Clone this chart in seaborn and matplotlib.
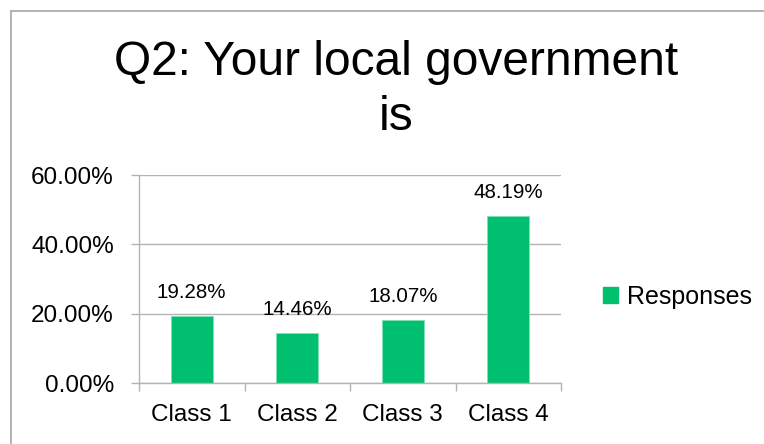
import matplotlib
matplotlib.use("Agg")
import matplotlib.pyplot as plt
import matplotlib.patches as mpatches
from matplotlib.lines import Line2D
from matplotlib.ticker import FuncFormatter, FixedLocator
import seaborn as sns
import pandas as pd

categories = ["Class 1", "Class 2", "Class 3", "Class 4"]
values = [0.1928, 0.1446, 0.1807, 0.4819]
value_labels = ["19.28%", "14.46%", "18.07%", "48.19%"]
yticks = [0.0, 0.2, 0.4, 0.6]
series_name = "Responses"
title_line1 = "Q2: Your local government"
title_line2 = "is"

sns.set_theme(style="white")
plt.rcParams["font.family"] = ["Liberation Sans", "DejaVu Sans"]

W, H = 764, 444
fig = plt.figure(figsize=(W / 100, H / 100), dpi=100)
ax = fig.add_axes([139 / W, 1 - 383 / H, (561 - 139) / W, (383 - 175) / H])

df = pd.DataFrame({"Class": categories, "Value": values, "Series": series_name})
green = "#00BF6F"
sns.barplot(data=df, x="Class", y="Value", color=green, saturation=1, width=0.4, ax=ax,
            edgecolor="#7fe0b5", linewidth=0.6)

ax.set_xlim(-0.5, 3.5)
ax.set_ylim(0, 0.6)
ax.set_yticks(yticks)
ax.yaxis.set_major_formatter(FuncFormatter(lambda v, p: f"{v*100:.2f}%"))
ax.set_xlabel("")
ax.set_ylabel("")

grid_c = "#b3b3b3"
ax.yaxis.grid(True, color=grid_c, linewidth=1.0)
ax.set_axisbelow(True)
for s in ["top", "right"]:
    ax.spines[s].set_visible(False)
ax.spines["left"].set_color(grid_c)
ax.spines["bottom"].set_color(grid_c)
ax.spines["left"].set_linewidth(1.0)
ax.spines["bottom"].set_linewidth(1.0)

ax.tick_params(axis="y", which="major", left=True, length=6, width=1.0, color=grid_c,
               labelsize=17.5, pad=12, labelcolor="#000000")
ax.tick_params(axis="x", which="major", bottom=False, length=0, labelsize=17.5,
               pad=15, labelcolor="#000000")
ax.xaxis.set_minor_locator(FixedLocator([-0.5, 0.5, 1.5, 2.5, 3.5]))
ax.tick_params(axis="x", which="minor", bottom=True, length=6, width=1.0, color=grid_c)

for i, (v, lab) in enumerate(zip(values, value_labels)):
    ax.annotate(lab, xy=(i, v), xytext=(0, 13), textcoords="offset points",
                ha="center", va="baseline", fontsize=14.8, color="#000000")

handle = mpatches.Patch(facecolor=green, edgecolor=green, label=series_name)
fig.legend(handles=[handle], loc="center left", bbox_to_anchor=(603 / W, 1 - 297 / H),
           frameon=False, fontsize=18, handlelength=0.6, handleheight=0.6,
           handletextpad=0.35, borderpad=0, borderaxespad=0, labelcolor="#000000")

fig.text(396 / W, 1 - 75 / H, title_line1, ha="center", va="baseline",
         fontsize=34.5, color="#000000")
fig.text(396 / W, 1 - 130 / H, title_line2, ha="center", va="baseline",
         fontsize=34.5, color="#000000")

frame_c = "#a6a6a6"
top_y = 1 - 11 / H
left_x = 11 / W
fig.add_artist(Line2D([left_x, 1.0], [top_y, top_y], transform=fig.transFigure,
                      color=frame_c, linewidth=1.2))
fig.add_artist(Line2D([left_x, left_x], [0.0, top_y], transform=fig.transFigure,
                      color=frame_c, linewidth=1.2))

fig.savefig("out.png", dpi=100)
